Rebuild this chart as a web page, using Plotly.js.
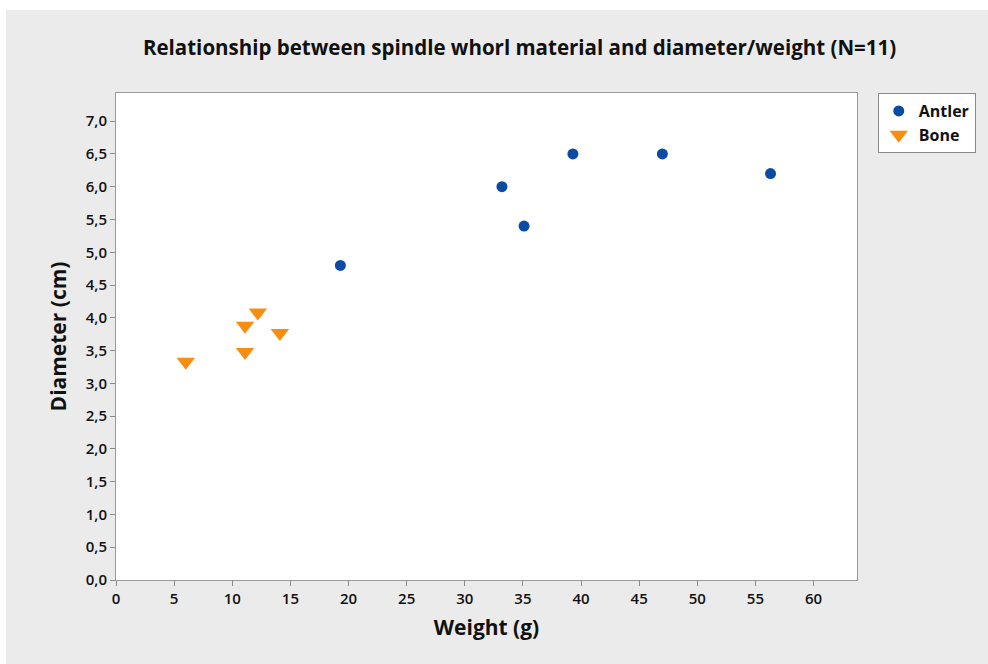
<!DOCTYPE html>
<html>
<head>
<meta charset="utf-8">
<script src="https://cdn.plot.ly/plotly-3.0.1.min.js"></script>
<style>
html,body{margin:0;padding:0;background:#ffffff;width:988px;height:664px;overflow:hidden;}
#chart{position:absolute;left:6px;top:10px;width:982px;height:654px;}
</style>
</head>
<body>
<div id="chart"></div>
<script>
// Data
const antlerWeight = [19.3, 33.2, 35.1, 39.3, 47.0, 56.3];
const antlerDiameter = [4.8, 6.0, 5.4, 6.5, 6.5, 6.2];
const boneWeight = [6.0, 11.1, 11.1, 12.2, 14.1];
const boneDiameter = [3.33, 3.48, 3.88, 4.08, 3.77];

const xTickVals = [0, 5, 10, 15, 20, 25, 30, 35, 40, 45, 50, 55, 60];
const xTickText = ["0", "5", "10", "15", "20", "25", "30", "35", "40", "45", "50", "55", "60"];
const yTickVals = [0, 0.5, 1, 1.5, 2, 2.5, 3, 3.5, 4, 4.5, 5, 5.5, 6, 6.5, 7];
const yTickText = ["0,0", "0,5", "1,0", "1,5", "2,0", "2,5", "3,0", "3,5", "4,0", "4,5", "5,0", "5,5", "6,0", "6,5", "7,0"];

const FONT = "'Open Sans', 'Noto Sans', sans-serif";

const traces = [
  {
    x: antlerWeight, y: antlerDiameter, name: "Antler",
    type: "scatter", mode: "markers",
    marker: {symbol: "circle", size: 11, color: "#0a4ca3"}
  },
  {
    x: boneWeight, y: boneDiameter, name: "Bone",
    type: "scatter", mode: "markers",
    marker: {symbol: "triangle-down", size: 16, color: "#f88d0f"}
  }
];

const axisCommon = {
  showgrid: false, zeroline: false,
  showline: true, linecolor: "#9a9a9a", linewidth: 1, mirror: true,
  ticks: "outside", ticklen: 5, tickcolor: "#8a8a8a", tickwidth: 1,
  tickfont: {family: FONT, size: 15, color: "#111", weight: 600},
  automargin: false
};

const layout = {
  width: 982, height: 654,
  paper_bgcolor: "#ebebeb",
  plot_bgcolor: "#ffffff",
  margin: {l: 110, r: 131, t: 83, b: 84},
  title: {
    text: "Relationship between spindle whorl material and diameter/weight (N=11)",
    font: {family: FONT, size: 20.5, color: "#111", weight: 700},
    x: 0.523, xref: "container", xanchor: "center",
    y: 1 - 38/654, yref: "container", yanchor: "middle"
  },
  xaxis: Object.assign({}, axisCommon, {
    range: [0, 63.74],
    tickmode: "array", tickvals: xTickVals, ticktext: xTickText,
    title: {text: "Weight (g)", font: {family: FONT, size: 21, color: "#111", weight: 700}, standoff: 13}
  }),
  yaxis: Object.assign({}, axisCommon, {
    range: [0, 7.43],
    tickmode: "array", tickvals: yTickVals, ticktext: yTickText,
    title: {text: "Diameter (cm)", font: {family: FONT, size: 21, color: "#111", weight: 700}, standoff: 13}
  }),
  showlegend: true,
  legend: {
    x: 1.028, xanchor: "left", y: 1.0, yanchor: "top",
    bgcolor: "#ffffff", bordercolor: "#8a8a8a", borderwidth: 1,
    font: {family: FONT, size: 16, color: "#111", weight: 700},
    itemwidth: 30, tracegroupgap: 4
  }
};

Plotly.newPlot("chart", traces, layout, {displayModeBar: false, staticPlot: true});
</script>
</body>
</html>
